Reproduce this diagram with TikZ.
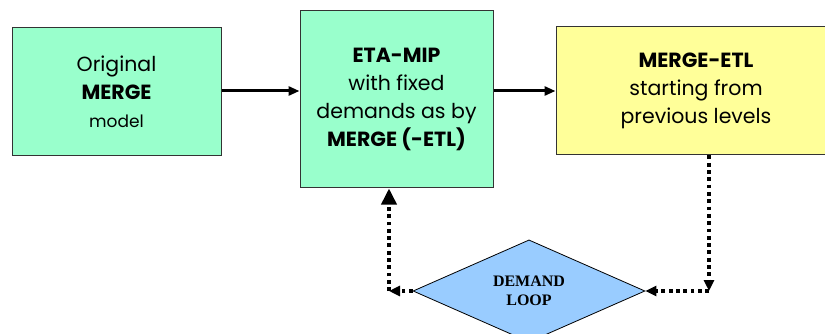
\documentclass[tikz,border=0pt]{standalone}
\usepackage{fontspec}
\setmainfont{Poppins}
\newfontfamily\labelserif{Liberation Serif}
\usetikzlibrary{shapes.geometric,arrows.meta}
\definecolor{boxgreen}{HTML}{99FFCC}
\definecolor{boxyellow}{HTML}{FFFF99}
\definecolor{loopblue}{HTML}{99CCFF}
\definecolor{edgegray}{HTML}{333333}
\tikzset{
  stagebox/.style={draw=edgegray, line width=1pt, align=center, inner sep=0pt,
    font=\fontsize{20.5}{28}\selectfont},
  loopdiamond/.style={diamond, draw=black, line width=0.8pt, fill=loopblue,
    minimum width=232pt, minimum height=96pt, inner sep=0pt, align=center,
    font=\labelserif\bfseries\fontsize{16}{19.5}\selectfont},
  flowarrow/.style={line width=3pt, -{Triangle[length=11pt,width=9pt]}},
  looparrow/.style={line width=3.6pt, dash pattern=on 3.8pt off 3.5pt,
    -{Triangle[length=11pt,width=10pt]}},
  bigtip/.style={-{Triangle[length=16pt,width=15pt]}}
}
\begin{document}
\begin{tikzpicture}[x=1pt,y=-1pt]
\clip (0,0) rectangle (825,334);
\fill[white] (0,0) rectangle (825,334);

% the three stages
\node[stagebox, fill=boxgreen, minimum width=209pt, minimum height=128pt]
  (b1) at (116.5,92) {Original\\\textbf{MERGE}\\{\fontsize{17}{28}\selectfont model}};
\node[stagebox, fill=boxgreen, minimum width=193pt, minimum height=177pt]
  (b2) at (396.5,99.5) {\textbf{ETA-MIP}\\with fixed\\demands as by\\\textbf{MERGE (-ETL)}};
\node[stagebox, fill=boxyellow, minimum width=280pt, minimum height=128pt]
  (b3) at (696,91) {\textbf{MERGE-ETL}\\starting from\\previous levels};

% feedback decision
\node[loopdiamond] (dl) at (529,291) {DEMAND\\LOOP};

\coordinate (cl) at (389,291);
\coordinate (cr) at (709,291);

\draw[flowarrow] (b1.east |- 0,91) -- (b2.west |- 0,91);
\draw[flowarrow] (b2.east |- b3.west) -- (b3.west);

\draw[looparrow] (dl.west) -- (cl);
\draw[looparrow, bigtip] (cl) -- (cl |- b2.south);
\draw[looparrow] (cr |- b3.south) -- (cr);
\draw[looparrow] (cr) -- (dl.east);
\end{tikzpicture}
\end{document}
